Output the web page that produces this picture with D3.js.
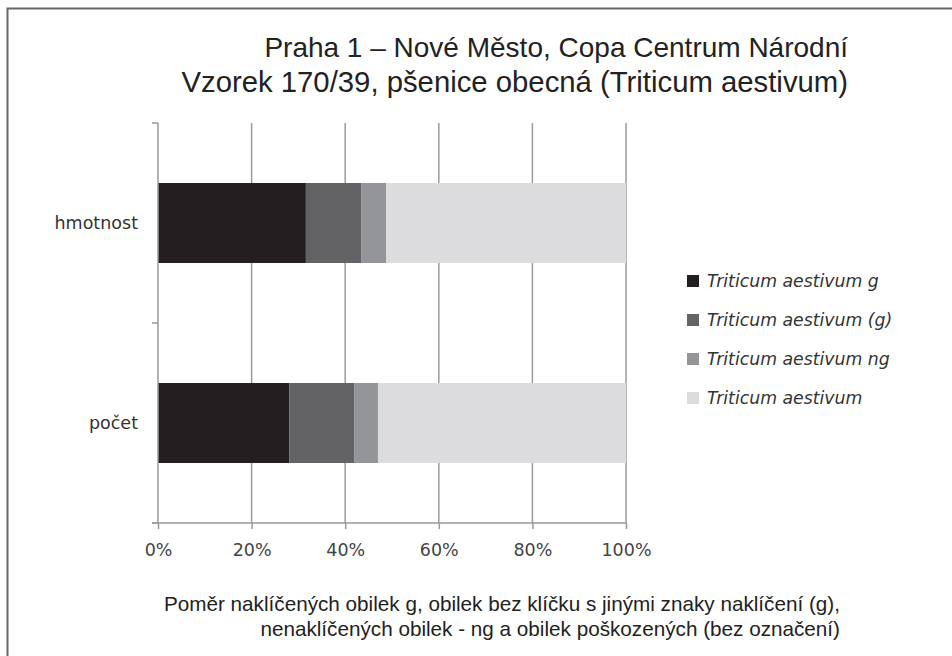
<!DOCTYPE html>
<html><head><meta charset="utf-8">
<script src="https://cdn.jsdelivr.net/npm/d3@7"></script>
<style>body{margin:0;background:#fff}svg{display:block}</style>
</head><body>
<script>
const categories = ["hmotnost", "počet"];
const seriesNames = ["Triticum aestivum g", "Triticum aestivum (g)", "Triticum aestivum ng", "Triticum aestivum"];
const valG      = [31.6, 28.1];
const valParenG = [11.8, 13.8];
const valNg     = [5.4, 5.1];
const valRest   = [51.2, 53.0];
const tickValues = [0, 20, 40, 60, 80, 100];
const colors = ["#231f20", "#636365", "#939598", "#dcdcde"];
const titleLines = ["Praha 1 – Nové Město, Copa Centrum Národní", "Vzorek 170/39, pšenice obecná (Triticum aestivum)"];
const captionLines = ["Poměr naklíčených obilek g, obilek bez klíčku s jinými znaky naklíčení (g),", "nenaklíčených obilek - ng a obilek poškozených (bez označení)"];

(function(){
const W = 952, H = 656;
const svg = d3.select("body").append("svg").attr("width", W).attr("height", H);

// frame
svg.append("path").attr("d", `M${W+5},8.5 H7.5 V${H+5}`).attr("fill","none").attr("stroke","#666").attr("stroke-width",2);

const pL = 158, pR = 626, pT = 123, pB = 523;
const x = d3.scaleLinear().domain([0,100]).range([pL,pR]);
const y = d3.scaleBand().domain(categories).range([pT,pB]).paddingInner(0.6).paddingOuter(0.3);

// gridlines
svg.append("g").selectAll("line").data(tickValues.slice(1)).join("line")
  .attr("x1", d=>x(d)).attr("x2", d=>x(d)).attr("y1", pT).attr("y2", pB)
  .attr("stroke", "#9a9a9a").attr("stroke-width", 1.5);

// stacked bars
const rows = categories.map((c,i)=>({cat:c, s0:valG[i], s1:valParenG[i], s2:valNg[i], s3:valRest[i]}));
const stacked = d3.stack().keys(["s0","s1","s2","s3"])(rows);
svg.append("g").selectAll("g").data(stacked).join("g").attr("fill",(d,i)=>colors[i])
  .selectAll("rect").data(d=>d).join("rect")
  .attr("x", d=>x(d[0])).attr("width", d=>x(d[1])-x(d[0]))
  .attr("y", d=>y(d.data.cat)).attr("height", y.bandwidth());

const axFont = "DejaVu Sans, Verdana, sans-serif", axSize = 17.5;

// x axis
const xAxis = d3.axisBottom(x).tickValues(tickValues).tickFormat(d=>d+"%").tickSize(6).tickSizeOuter(0);
const gx = svg.append("g").attr("transform",`translate(0,${pB})`).call(xAxis);
gx.select(".domain").attr("stroke","#9a9a9a").attr("stroke-width",1.5).attr("d",`M${pL-6},0H${pR}`);
gx.selectAll(".tick line").attr("stroke","#9a9a9a").attr("stroke-width",1.5);
gx.selectAll(".tick text").attr("font-family",axFont).attr("font-size",axSize).attr("fill","#444").attr("y",21).attr("dy","0.71em");

// y axis
const gy = svg.append("g").attr("transform",`translate(${pL},0)`);
gy.append("line").attr("x1",0).attr("x2",0).attr("y1",pT).attr("y2",pB).attr("stroke","#9a9a9a").attr("stroke-width",1.5);
const yTicks = [pT, (pT+pB)/2, pB];
gy.selectAll("line.t").data(yTicks).join("line").attr("class","t")
  .attr("x1",-6).attr("x2",0).attr("y1",d=>d).attr("y2",d=>d).attr("stroke","#9a9a9a").attr("stroke-width",1.5);
gy.selectAll("text").data(categories).join("text")
  .attr("x",-20).attr("y",d=>y(d)+y.bandwidth()/2).attr("dy","0.35em").attr("text-anchor","end")
  .attr("font-family",axFont).attr("font-size",axSize).attr("fill","#333").text(d=>d);

// title
svg.append("g").selectAll("text").data(titleLines).join("text")
  .attr("x",848).attr("y",(d,i)=>57+i*35).attr("text-anchor","end")
  .attr("font-family","Liberation Sans, Arial, sans-serif").attr("font-size",(d,i)=>i===0?28:29.3).attr("fill","#222").text(d=>d);

// legend
const lg = svg.append("g").selectAll("g").data(seriesNames).join("g")
  .attr("transform",(d,i)=>`translate(687,${281+i*39})`);
lg.append("rect").attr("x",0).attr("y",-6).attr("width",12).attr("height",12).attr("fill",(d,i)=>colors[i]);
lg.append("text").attr("x",20).attr("dy","0.35em").attr("font-family",axFont)
  .attr("font-style","italic").attr("font-size",17.3).attr("fill","#333").text(d=>d);

// caption
svg.append("g").selectAll("text").data(captionLines).join("text")
  .attr("x",840).attr("y",(d,i)=>611+i*25).attr("text-anchor","end")
  .attr("font-family","Liberation Sans, Arial, sans-serif").attr("font-size",20.7).attr("fill","#222").text(d=>d);
})();
</script>
</body></html>
